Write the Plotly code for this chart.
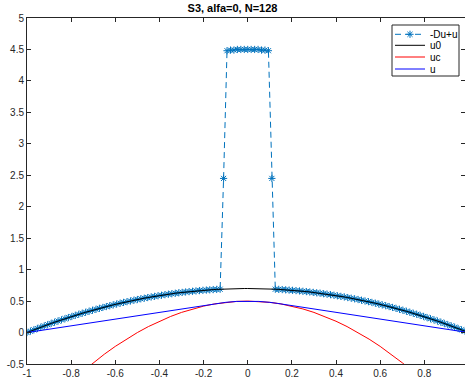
import plotly.graph_objects as go

# grid (N = 128 points, h = 2/128)
x = [-1, -0.9844, -0.9688, -0.9531, -0.9375, -0.9219, -0.9063, -0.8906,
     -0.875, -0.8594, -0.8438, -0.8281, -0.8125, -0.7969, -0.7813, -0.7656,
     -0.75, -0.7344, -0.7188, -0.7031, -0.6875, -0.6719, -0.6563, -0.6406,
     -0.625, -0.6094, -0.5938, -0.5781, -0.5625, -0.5469, -0.5313, -0.5156,
     -0.5, -0.4844, -0.4688, -0.4531, -0.4375, -0.4219, -0.4063, -0.3906,
     -0.375, -0.3594, -0.3438, -0.3281, -0.3125, -0.2969, -0.2813, -0.2656,
     -0.25, -0.2344, -0.2188, -0.2031, -0.1875, -0.1719, -0.1563, -0.1406,
     -0.125, -0.1094, -0.0938, -0.0781, -0.0625, -0.0469, -0.0313, -0.0156,
     0, 0.0156, 0.0313, 0.0469, 0.0625, 0.0781, 0.0938, 0.1094,
     0.125, 0.1406, 0.1563, 0.1719, 0.1875, 0.2031, 0.2188, 0.2344,
     0.25, 0.2656, 0.2813, 0.2969, 0.3125, 0.3281, 0.3438, 0.3594,
     0.375, 0.3906, 0.4063, 0.4219, 0.4375, 0.4531, 0.4688, 0.4844,
     0.5, 0.5156, 0.5313, 0.5469, 0.5625, 0.5781, 0.5938, 0.6094,
     0.625, 0.6406, 0.6563, 0.6719, 0.6875, 0.7031, 0.7188, 0.7344,
     0.75, 0.7656, 0.7813, 0.7969, 0.8125, 0.8281, 0.8438, 0.8594,
     0.875, 0.8906, 0.9063, 0.9219, 0.9375, 0.9531, 0.9688, 0.9844]

du_u = [0.000, 0.022, 0.043, 0.064, 0.085, 0.105, 0.125, 0.145,
        0.164, 0.183, 0.202, 0.220, 0.238, 0.255, 0.273, 0.290,
        0.306, 0.322, 0.338, 0.354, 0.369, 0.384, 0.399, 0.413,
        0.427, 0.440, 0.453, 0.466, 0.479, 0.491, 0.502, 0.514,
        0.525, 0.536, 0.546, 0.556, 0.566, 0.575, 0.584, 0.593,
        0.602, 0.610, 0.617, 0.625, 0.632, 0.638, 0.645, 0.651,
        0.656, 0.662, 0.667, 0.671, 0.675, 0.679, 0.683, 0.686,
        0.689, 2.45, 4.48, 4.49, 4.49, 4.50, 4.50, 4.50,
        4.50, 4.50, 4.50, 4.50, 4.49, 4.49, 4.48, 2.45,
        0.689, 0.686, 0.683, 0.679, 0.675, 0.671, 0.667, 0.662,
        0.656, 0.651, 0.645, 0.638, 0.632, 0.625, 0.617, 0.610,
        0.602, 0.593, 0.584, 0.575, 0.566, 0.556, 0.546, 0.536,
        0.525, 0.514, 0.502, 0.491, 0.479, 0.466, 0.453, 0.440,
        0.427, 0.413, 0.399, 0.384, 0.369, 0.354, 0.338, 0.322,
        0.306, 0.290, 0.273, 0.255, 0.238, 0.220, 0.202, 0.183,
        0.164, 0.145, 0.125, 0.105, 0.085, 0.064, 0.043, 0.022]

u0 = [0.000, 0.022, 0.043, 0.064, 0.085, 0.105, 0.125, 0.145,
      0.164, 0.183, 0.202, 0.220, 0.238, 0.255, 0.273, 0.290,
      0.306, 0.322, 0.338, 0.354, 0.369, 0.384, 0.399, 0.413,
      0.427, 0.440, 0.453, 0.466, 0.479, 0.491, 0.502, 0.514,
      0.525, 0.536, 0.546, 0.556, 0.566, 0.575, 0.584, 0.593,
      0.602, 0.610, 0.617, 0.625, 0.632, 0.638, 0.645, 0.651,
      0.656, 0.662, 0.667, 0.671, 0.675, 0.679, 0.683, 0.686,
      0.689, 0.692, 0.694, 0.696, 0.697, 0.698, 0.699, 0.700,
      0.700, 0.700, 0.699, 0.698, 0.697, 0.696, 0.694, 0.692,
      0.689, 0.686, 0.683, 0.679, 0.675, 0.671, 0.667, 0.662,
      0.656, 0.651, 0.645, 0.638, 0.632, 0.625, 0.617, 0.610,
      0.602, 0.593, 0.584, 0.575, 0.566, 0.556, 0.546, 0.536,
      0.525, 0.514, 0.502, 0.491, 0.479, 0.466, 0.453, 0.440,
      0.427, 0.413, 0.399, 0.384, 0.369, 0.354, 0.338, 0.322,
      0.306, 0.290, 0.273, 0.255, 0.238, 0.220, 0.202, 0.183,
      0.164, 0.145, 0.125, 0.105, 0.085, 0.064, 0.043, 0.022]

uc_x = [-0.75, -0.7, -0.65, -0.6, -0.55, -0.5, -0.45, -0.4, -0.35, -0.3, -0.25,
        -0.2, -0.15, -0.1, -0.05, 0, 0.05, 0.1, 0.15, 0.2, 0.25, 0.3, 0.35,
        0.4, 0.45, 0.5, 0.55, 0.6, 0.65, 0.7, 0.75]
uc = [-0.625, -0.48, -0.345, -0.22, -0.105, 0.0, 0.095, 0.18, 0.255, 0.32, 0.375,
      0.42, 0.455, 0.48, 0.495, 0.5, 0.495, 0.48, 0.455, 0.42, 0.375, 0.32, 0.255,
      0.18, 0.095, 0.0, -0.105, -0.22, -0.345, -0.48, -0.625]

u_x = [-1, -0.134, -0.1, -0.05, 0, 0.05, 0.1, 0.134, 0.9844]
u = [0.0, 0.464, 0.48, 0.495, 0.5, 0.495, 0.48, 0.464, 0.008]

x_ticks = [-1, -0.8, -0.6, -0.4, -0.2, 0, 0.2, 0.4, 0.6, 0.8]
x_tick_labels = ["-1", "-0.8", "-0.6", "-0.4", "-0.2", "0", "0.2", "0.4", "0.6", "0.8"]
y_ticks = [-0.5, 0, 0.5, 1, 1.5, 2, 2.5, 3, 3.5, 4, 4.5, 5]
y_tick_labels = ["-0.5", "0", "0.5", "1", "1.5", "2", "2.5", "3", "3.5", "4", "4.5", "5"]

series_names = ["-Du+u", "u0", "uc", "u"]
series_colors = ["#0072BD", "black", "red", "blue"]

AX = "#262626"
FONT = "Liberation Sans, Arial, Helvetica, sans-serif"
W, H = 465, 385
ML, MR, MT, MB = 27, 0, 18, 21
PW, PH = W - ML - MR, H - MT - MB


def px(xp):
    return (xp - ML) / PW


def py(yp):
    return (H - MB - yp) / PH


fig = go.Figure()
fig.add_trace(go.Scatter(
    x=x, y=du_u, name=series_names[0], mode="lines+markers",
    line=dict(color=series_colors[0], width=1, dash="6px,4px"),
    marker=dict(symbol="asterisk-open", size=6, color=series_colors[0],
                line=dict(color=series_colors[0], width=1)),
))
fig.add_trace(go.Scatter(x=x, y=u0, name=series_names[1], mode="lines",
                         line=dict(color=series_colors[1], width=1)))
fig.add_trace(go.Scatter(x=uc_x, y=uc, name=series_names[2], mode="lines",
                         line=dict(color=series_colors[2], width=1)))
fig.add_trace(go.Scatter(x=u_x, y=u, name=series_names[3], mode="lines",
                         line=dict(color=series_colors[3], width=1)))

axis_common = dict(
    showline=True, linecolor=AX, linewidth=1, mirror="ticks",
    ticks="inside", ticklen=4, tickwidth=1, tickcolor=AX,
    showgrid=False, zeroline=False, automargin=False,
    tickfont=dict(family=FONT, size=10, color=AX),
)
fig.update_xaxes(range=[-1, 0.984375], tickvals=x_ticks, ticktext=x_tick_labels, **axis_common)
fig.update_yaxes(range=[-0.5, 5], tickvals=y_ticks, ticktext=y_tick_labels, **axis_common)

# manual legend (MATLAB-style compact box)
shapes = [dict(type="rect", xref="paper", yref="paper",
               x0=px(392), x1=px(459), y0=py(76), y1=py(25),
               line=dict(color=AX, width=1), fillcolor="white", layer="below")]
annotations = []
entry_y = [34.3, 45.3, 57.0, 69.0]
for name, col, ey in zip(series_names, series_colors, entry_y):
    shapes.append(dict(type="line", xref="paper", yref="paper",
                       x0=px(395), x1=px(425), y0=py(ey), y1=py(ey),
                       line=dict(color=col, width=1,
                                 dash="6px,4px" if name == "-Du+u" else "solid"),
                       layer="below"))
    annotations.append(dict(xref="paper", yref="paper", x=px(428), y=py(ey),
                            xanchor="left", yanchor="middle", text=name,
                            showarrow=False,
                            font=dict(family=FONT, size=10, color="black")))

fig.add_trace(go.Scatter(
    x=[px(410)], y=[py(entry_y[0])], xaxis="x2", yaxis="y2", mode="markers",
    marker=dict(symbol="asterisk-open", size=6, color=series_colors[0],
                line=dict(color=series_colors[0], width=1)),
    showlegend=False, hoverinfo="skip", cliponaxis=False,
))

fig.update_layout(
    width=W, height=H,
    margin=dict(l=ML, r=MR, t=MT, b=MB),
    paper_bgcolor="white", plot_bgcolor="white",
    xaxis2=dict(range=[0, 1], domain=[0, 1], overlaying="x", visible=False, fixedrange=True),
    yaxis2=dict(range=[0, 1], domain=[0, 1], overlaying="y", visible=False, fixedrange=True,
                anchor="x2"),
    title=dict(text="<b>S3, alfa=0, N=128</b>", x=0.5, xanchor="center",
               y=0.978, yanchor="middle",
               font=dict(family=FONT, size=11, color="black")),
    font=dict(family=FONT, size=10, color="black"),
    shapes=shapes, annotations=annotations,
    showlegend=False,
)

fig.write_html("out.html", config={"displayModeBar": False},
               post_script="document.body.style.margin='0px';")
